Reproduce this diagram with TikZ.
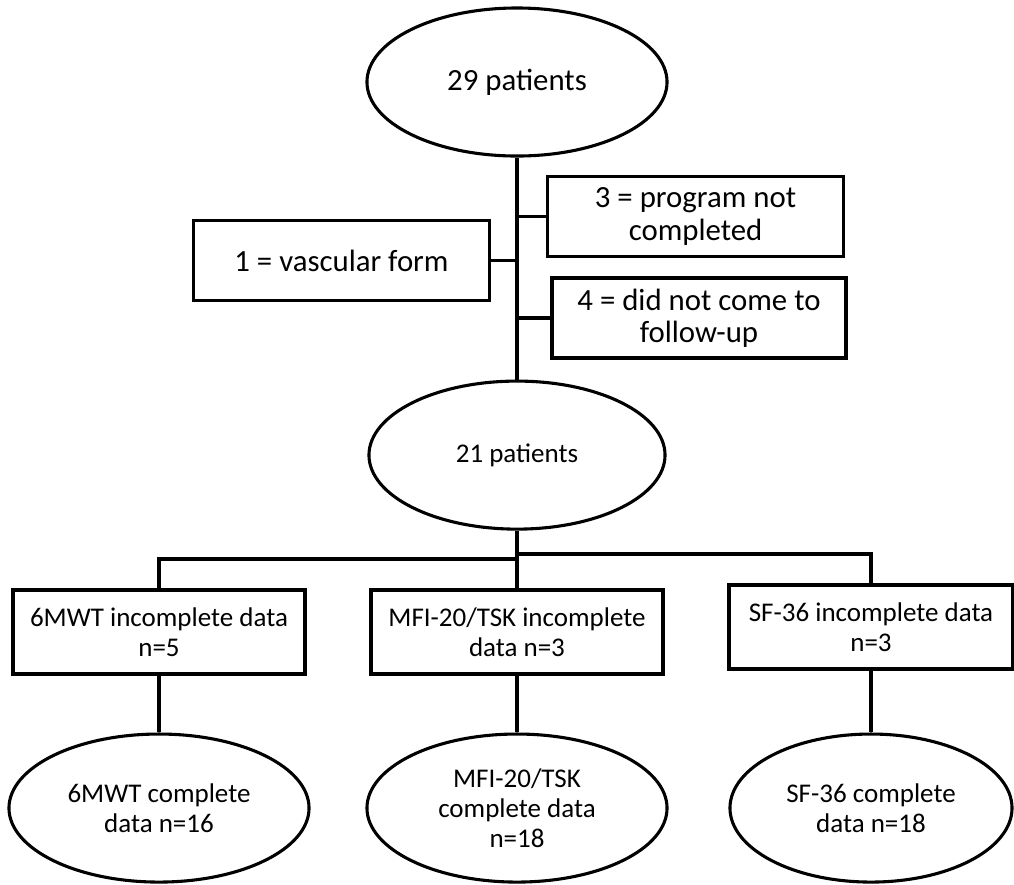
\documentclass[tikz,border=0pt]{standalone}
\usepackage{fontspec}
\setmainfont{Carlito}
\usetikzlibrary{positioning,shapes,calc}

\begin{document}
\begin{tikzpicture}[x=0.025cm,y=-0.025cm,line width=2.2pt,node distance=9.325cm,
                main node/.style={ellipse,draw,minimum width=7.5cm,minimum height=3.7cm,inner sep=1pt,align=center},
                box node/.style={rectangle,draw,minimum width=7.4cm,minimum height=2cm,inner sep=1pt,align=center,font=\fontsize{21.9}{22.8}\selectfont},
                end node/.style={main node,font=\fontsize{19.2}{21.3}\selectfont},
                end box/.style={box node,minimum width=7.3cm,minimum height=2.1cm,font=\fontsize{19.2}{21.3}\selectfont}]
            \useasboundingbox (0,0) rectangle (1014,884);
            \node[main node,font=\fontsize{21.9}{23}\selectfont] (1) at (517,82) {29 patients};
            \node[main node,font=\fontsize{19.2}{21}\selectfont,minimum width=7.4cm] (2) [below of=1] {21 patients};
            % dropouts
            \node[box node] (3) at (695.5,216.5) {3 = program not\\completed};
            \node[box node] (4) at (341.5,260.5) {1 = vascular form};
            \node[box node,minimum width=7.35cm] (5) at (699,318) {4 = did not come to\\follow-up};
            % incomplete data
            \node[end box] (6) at (159,632) {6MWT incomplete data\\n=5};
            \node[end box] (7) at (517,632) {MFI-20/TSK incomplete\\data n=3};
            \node[end box,minimum width=7.1cm] (8) at (871,627) {SF-36 incomplete data\\n=3};
            % complete data
            \node[end node] (9) [below of=6,node distance=4.4cm] {6MWT complete\\data n=16};
            \node[end node] (10) [below of=7,node distance=4.4cm] {MFI-20/TSK\\complete data\\n=18};
            \node[end node,minimum width=7.05cm] (11) [below of=8,node distance=4.525cm] {SF-36 complete\\data n=18};
            \coordinate (12) at (517,559);
            \coordinate (13) at (517,554);
            \draw (1) -- (2);
            \draw (3.west) -- (3.west -| 1.south);
            \draw (4.east) -- (4.east -| 1.south);
            \draw (5.west) -- (5.west -| 1.south);
            \draw (2) -- (12);
            \draw (12) -| (6);
            \draw (12) -- (7);
            \draw (13) -| (8);
            \draw (6) -- (9);
            \draw (7) -- (10);
            \draw (8) -- (11);
        \end{tikzpicture}
\end{document}
